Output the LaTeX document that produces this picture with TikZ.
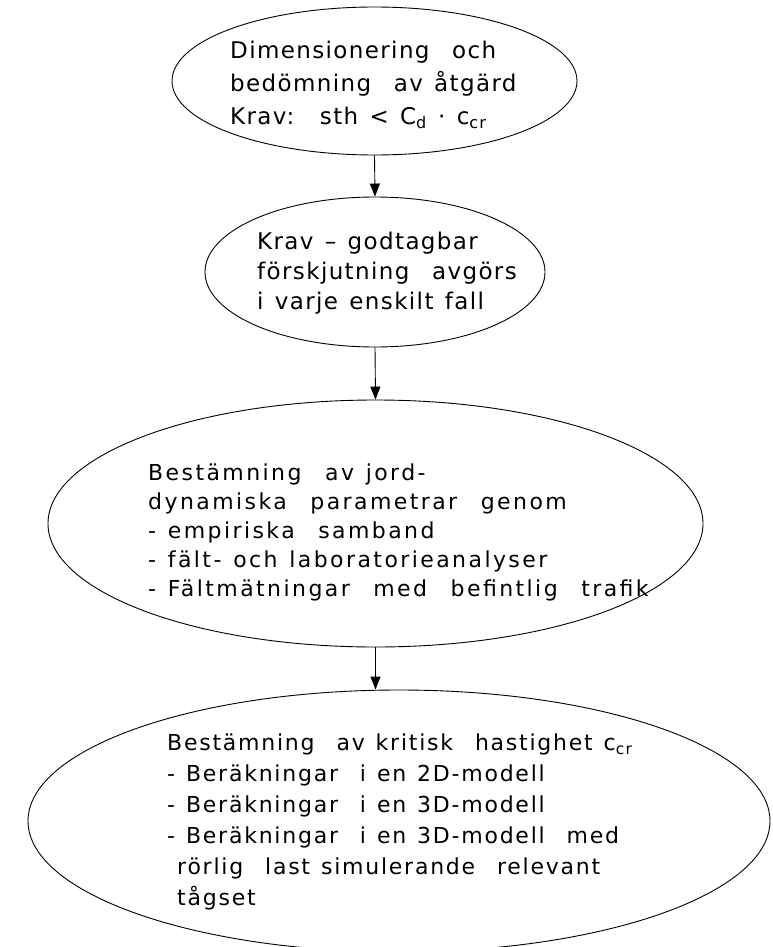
\documentclass[tikz,border=0pt]{standalone}
\usepackage{fontspec}
\setmainfont{DejaVu Sans}
\newfontfamily\fa[LetterSpace=6,WordSpace=1.3]{DejaVu Sans}
\newfontfamily\fb[LetterSpace=11,WordSpace=1.25]{DejaVu Sans}
\newfontfamily\fc[LetterSpace=8,WordSpace=1.25]{DejaVu Sans}
\usetikzlibrary{shapes.geometric,arrows.meta}
\tikzset{
  oval/.style={ellipse,draw,line width=0.9pt,inner sep=0pt},
  txt/.style={anchor=north west,inner sep=0pt,align=left},
  flow/.style={-{Triangle[length=13pt,width=10pt]},line width=0.9pt}
}
\begin{document}
\begin{tikzpicture}[x=1pt,y=-1pt]
\useasboundingbox (0,0) rectangle (772,947);
\node[oval,minimum width=405pt,minimum height=148pt] (e1) at (374.5,81) {};
\node[oval,minimum width=340pt,minimum height=150pt] (e2) at (375,272) {};
\node[oval,minimum width=655pt,minimum height=247pt] (e3) at (375.5,523.5) {};
\node[oval,minimum width=742pt,minimum height=262pt] (e4) at (399,821) {};
\node[txt,font=\fa\fontsize{23}{33}\selectfont] (t1) at (230,41)
 {Dimensionering~ och\\bedömning~ av åtgärd\\Krav:~ sth < C\textsubscript{d} · c\textsubscript{cr}};
\node[txt,font=\fa\fontsize{23}{30}\selectfont] (t2) at (257,232)
 {Krav – godtagbar\\förskjutning~ avgörs\\i varje enskilt fall};
\node[txt,font=\fb\fontsize{22}{29}\selectfont] (t3) at (148,464)
 {Bestämning~ av jord-\\dynamiska~ parametrar~ genom\\- empiriska~ samband\\- fält- och laboratorieanalyser\\- Fältmätningar~ med~ befintlig~ trafik};
\node[txt,font=\fc\fontsize{22}{31}\selectfont] (t4) at (167,734)
 {Bestämning~ av kritisk~ hastighet c\textsubscript{cr}\\- Beräkningar~ i en 2D-modell\\- Beräkningar~ i en 3D-modell\\- Beräkningar~ i en 3D-modell~ med\\\hspace*{10pt}rörlig~ last simulerande~ relevant\\\hspace*{10pt}tågset};
\draw[flow] (e1.south) -- (e2.north);
\draw[flow] (e2.south) -- (e3.north);
\draw[flow] (e3.south) -- (e4.north -| e3.south);
\end{tikzpicture}
\end{document}
